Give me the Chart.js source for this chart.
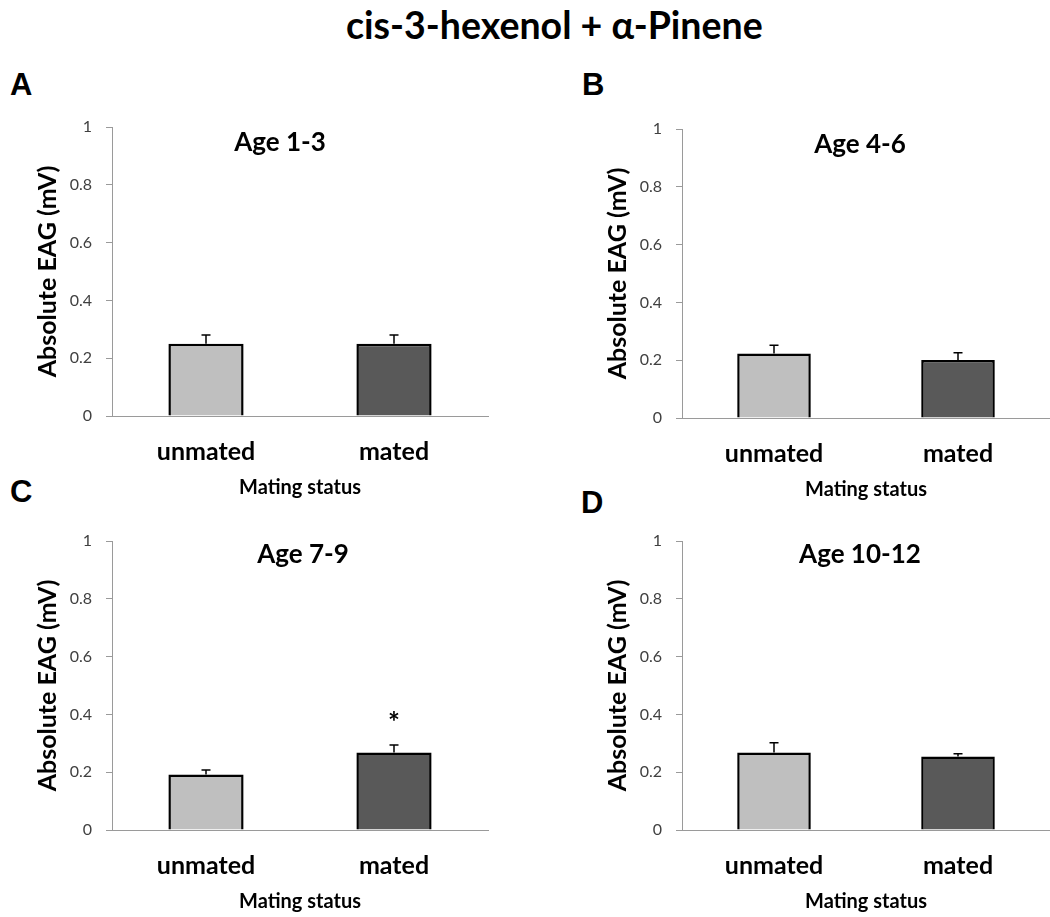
<!DOCTYPE html>
<html>
<head>
<meta charset="utf-8">
<script src="https://cdn.jsdelivr.net/npm/chart.js@4.4.0/dist/chart.umd.min.js"></script>
<style>
  body { margin: 0; background: #fff; }
  #page { position: relative; width: 1050px; height: 917px; background: #fff; overflow: hidden; }
  #mainTitle { position: absolute; left: 346px; top: 6px; font: bold 37.5px Lato; line-height: 37px; white-space: nowrap; color: #000; }
  .letter { position: absolute; font: bold 31px "Liberation Sans"; line-height: 31px; color: #000; }
  canvas { position: absolute; }
</style>
</head>
<body>
<div id="page">
  <div id="mainTitle">cis-3-hexenol + α-Pinene</div>
  <div class="letter" style="left:10px; top:69px;">A</div>
  <div class="letter" style="left:582px; top:69px;">B</div>
  <div class="letter" style="left:10px; top:476px;">C</div>
  <div class="letter" style="left:581px; top:487px;">D</div>
  <canvas id="chartA" width="520" height="400" style="left:0px; top:100px;"></canvas>
  <canvas id="chartB" width="480" height="400" style="left:570px; top:102px;"></canvas>
  <canvas id="chartC" width="520" height="400" style="left:0px; top:514px;"></canvas>
  <canvas id="chartD" width="480" height="400" style="left:570px; top:514px;"></canvas>
</div>
<script>
// Categories and tick labels
const categories = ['unmated', 'mated'];
const yTickLabels = ['0', '0.2', '0.4', '0.6', '0.8', '1'];
const ageGroups = ['Age 1-3', 'Age 4-6', 'Age 7-9', 'Age 10-12'];

// Mean absolute EAG (mV) and standard error, per age group
const meanAge1to3 = [0.25, 0.25];
const errAge1to3 = [0.03, 0.03];
const meanAge4to6 = [0.223, 0.201];
const errAge4to6 = [0.029, 0.025];
const meanAge7to9 = [0.192, 0.268];
const errAge7to9 = [0.016, 0.026];
const meanAge10to12 = [0.268, 0.254];
const errAge10to12 = [0.034, 0.010];

// Significance marks
const marksAge1to3 = ['', ''];
const marksAge4to6 = ['', ''];
const marksAge7to9 = ['', '*'];
const marksAge10to12 = ['', ''];

Chart.defaults.font.family = 'Lato';
Chart.defaults.color = '#000';

const axisGray = '#9a9a9a';

// Error bars (upper whisker only) and significance marks
const errorBarsPlugin = {
  id: 'errorBars',
  afterDatasetsDraw(chart, args, opts) {
    const ctx = chart.ctx;
    const y = chart.scales.y;
    const meta = chart.getDatasetMeta(0);
    const values = chart.data.datasets[0].data;
    ctx.save();
    ctx.strokeStyle = '#000';
    ctx.lineWidth = 1.5;
    meta.data.forEach((bar, i) => {
      const top = y.getPixelForValue(values[i] + opts.errors[i]);
      ctx.beginPath();
      ctx.moveTo(bar.x, bar.y);
      ctx.lineTo(bar.x, top);
      ctx.moveTo(bar.x - 4.5, top);
      ctx.lineTo(bar.x + 4.5, top);
      ctx.stroke();
      if (opts.marks[i]) {
        ctx.fillStyle = '#000';
        ctx.font = 'bold 28px Lato';
        ctx.textAlign = 'center';
        ctx.textBaseline = 'middle';
        ctx.fillText(opts.marks[i], bar.x, top - 22);
      }
    });
    ctx.restore();
  }
};

// Panel title drawn inside the plot area
const panelTitlePlugin = {
  id: 'panelTitle',
  afterDraw(chart, args, opts) {
    const ctx = chart.ctx;
    const area = chart.chartArea;
    ctx.save();
    ctx.fillStyle = '#000';
    ctx.font = 'bold 26px Lato';
    ctx.textAlign = 'center';
    ctx.textBaseline = 'middle';
    ctx.fillText(opts.text, area.left + opts.dx, area.top + opts.dy);
    ctx.restore();
  }
};

function makeChart(id, title, means, errs, marks, dx, dy, padRight) {
  const ctx = document.getElementById(id).getContext('2d');
  return new Chart(ctx, {
    type: 'bar',
    data: {
      labels: categories,
      datasets: [{
        data: means,
        backgroundColor: ['#bfbfbf', '#595959'],
        borderColor: '#000',
        borderWidth: 2.5,
        borderSkipped: 'bottom',
        categoryPercentage: 1,
        barPercentage: 0.4
      }]
    },
    plugins: [errorBarsPlugin, panelTitlePlugin],
    options: {
      responsive: false,
      animation: false,
      layout: { padding: { top: 27, right: padRight, left: 0, bottom: 0 } },
      plugins: {
        legend: { display: false },
        tooltip: { enabled: false },
        errorBars: { errors: errs, marks: marks },
        panelTitle: { text: title, dx: dx, dy: dy }
      },
      scales: {
        x: {
          afterFit: (scale) => { scale.height = 84; },
          grid: { display: false, drawTicks: false },
          border: { display: true, color: axisGray, width: 1, z: 1 },
          ticks: { font: { size: 25, weight: 'bold' }, color: '#000', padding: 21 },
          title: {
            display: true,
            text: 'Mating status',
            font: { size: 20, weight: 'bold' },
            color: '#000',
            padding: { top: 0, bottom: 0 }
          }
        },
        y: {
          min: 0,
          max: 1,
          afterFit: (scale) => { scale.width = 112; },
          grid: { display: true, drawOnChartArea: false, drawTicks: true, tickLength: 6, color: axisGray },
          border: { display: true, color: axisGray, width: 1 },
          ticks: {
            stepSize: 0.2,
            font: { size: 16 },
            color: '#404040',
            padding: 14,
            callback: (value, index) => yTickLabels[index]
          },
          title: {
            display: true,
            text: 'Absolute EAG (mV)',
            font: { size: 25, weight: 'bold' },
            color: '#000',
            padding: { top: 33, bottom: 0 }
          }
        }
      }
    }
  });
}

makeChart('chartA', ageGroups[0], meanAge1to3, errAge1to3, marksAge1to3, 168, 16, 32);
makeChart('chartB', ageGroups[1], meanAge4to6, errAge4to6, marksAge4to6, 178, 16, 0);
makeChart('chartC', ageGroups[2], meanAge7to9, errAge7to9, marksAge7to9, 191, 14, 32);
makeChart('chartD', ageGroups[3], meanAge10to12, errAge10to12, marksAge10to12, 178, 14, 0);
</script>
</body>
</html>
